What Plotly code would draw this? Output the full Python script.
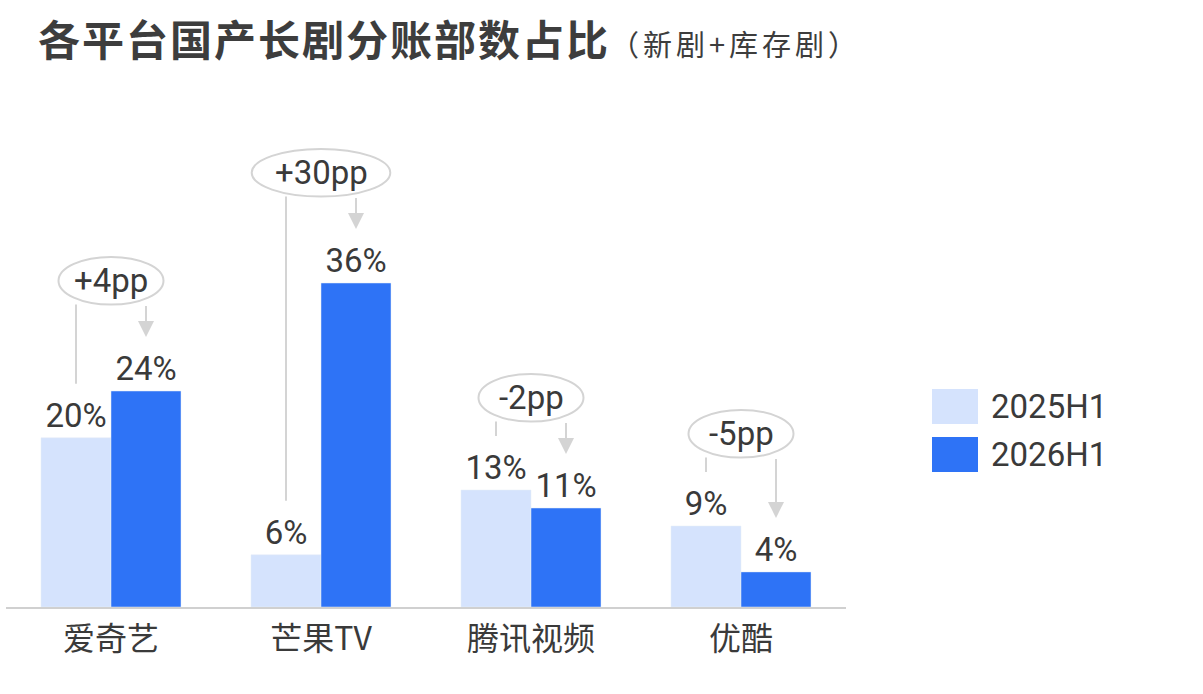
import plotly.graph_objects as go

# ---------------- data ----------------
platforms = ["爱奇艺", "芒果TV", "腾讯视频", "优酷"]
series_names = ["2025H1", "2026H1"]
share_2025 = [18.8, 5.8, 13, 9]      # bar heights (%)
share_2026 = [24, 36, 11, 3.9]
label_2025 = [20, 6, 13, 9]          # displayed (rounded) labels (%)
label_2026 = [24, 36, 11, 4]

# ---------------- style ----------------
LIGHT = "#d5e3fd"
DARK = "#2e73f6"
GRAY = "#d4d4d4"
TXT = "#3a3a3a"
LATIN = "Roboto, 'Noto Sans CJK SC', sans-serif"
CJK = "'Noto Sans CJK SC', sans-serif"

fig = go.Figure()
fig.add_trace(go.Bar(
    x=platforms, y=share_2025, name=series_names[0], marker_color=LIGHT,
    text=[f"{v}%" for v in label_2025], textposition="outside",
    textfont=dict(size=33, color=TXT, family=LATIN), cliponaxis=False,
    showlegend=False,
))
fig.add_trace(go.Bar(
    x=platforms, y=share_2026, name=series_names[1], marker_color=DARK,
    text=[f"{v}%" for v in label_2026], textposition="outside",
    textfont=dict(size=33, color=TXT, family=LATIN), cliponaxis=False,
    showlegend=False,
))

shapes = []
annotations = []
END_PAD = 6.0  # data units above a bar where connector ends
for i, (a, b, la, lb) in enumerate(zip(share_2025, share_2026, label_2025, label_2026)):
    delta = lb - la
    txt = f"{'+' if delta > 0 else '-'}{abs(delta)}pp"
    left_end = a + END_PAD
    right_end = b + END_PAD
    if delta > 0:
        ell_bottom = right_end + 3.6
    else:
        ell_bottom = left_end + 1.6
    ell_h = 5.3
    ell_w = 0.5 + 0.16 * (len(txt) - 4)
    xl = i - 1 / 6
    xr = i + 1 / 6
    # left connector line
    shapes.append(dict(type="line", xref="x", yref="y", x0=xl, x1=xl,
                       y0=ell_bottom, y1=left_end, line=dict(color=GRAY, width=2)))
    # ellipse
    shapes.append(dict(type="circle", xref="x", yref="y",
                       x0=i - ell_w / 2, x1=i + ell_w / 2,
                       y0=ell_bottom, y1=ell_bottom + ell_h,
                       fillcolor="white", line=dict(color=GRAY, width=2)))
    # ellipse text
    annotations.append(dict(x=i, y=ell_bottom + ell_h / 2, xref="x", yref="y",
                            text=txt, showarrow=False,
                            font=dict(size=33, color=TXT, family=LATIN)))
    # right arrow
    annotations.append(dict(x=xr, y=right_end, xref="x", yref="y",
                            ax=xr, ay=ell_bottom, axref="x", ayref="y",
                            text="", showarrow=True, arrowhead=2, arrowsize=1.6,
                            arrowwidth=2, arrowcolor=GRAY, standoff=0, startstandoff=0))

# ---------------- manual legend ----------------
L, R, T, B = 6, 357, 100, 87
W, H = 1203, 694
pw, ph = W - L - R, H - T - B
def px2paper_x(px):
    return (px - L) / pw
def px2paper_y(py):
    return (H - B - py) / ph

for k, (name, col) in enumerate(zip(series_names, [LIGHT, DARK])):
    top = 389 + k * 48
    shapes.append(dict(type="rect", xref="paper", yref="paper",
                       x0=px2paper_x(932), x1=px2paper_x(978),
                       y0=px2paper_y(top + 35), y1=px2paper_y(top),
                       fillcolor=col, line=dict(width=0)))
    annotations.append(dict(xref="paper", yref="paper",
                            x=px2paper_x(989), y=px2paper_y(top + 17),
                            xanchor="left", yanchor="middle", text=name,
                            showarrow=False,
                            font=dict(size=33, color=TXT, family=LATIN)))

fig.update_layout(
    width=W, height=H,
    margin=dict(l=L, r=R, t=T, b=B),
    paper_bgcolor="white", plot_bgcolor="white",
    barmode="group", bargap=1 / 3, bargroupgap=0,
    title=dict(
        text=("<span style='letter-spacing:2px'><b>各平台国产长剧分账部数占比</b></span>"
              "<span style='font-size:29px;letter-spacing:4px'>（新剧+库存剧）</span>"),
        x=38 / W, xanchor="left", xref="container",
        y=1 - 41 / H, yanchor="middle", yref="container",
        font=dict(size=42, color="#3d3d3d", family=CJK),
    ),
    xaxis=dict(showline=True, linecolor="#d0d0d0", linewidth=2,
               showgrid=False, ticks="", zeroline=False,
               tickfont=dict(size=32, color=TXT, family=CJK),
               ticklabelstandoff=3, range=[-0.5, 3.5]),
    yaxis=dict(visible=False, range=[0, ph / 9.0], showgrid=False, zeroline=False),
    shapes=shapes, annotations=annotations, showlegend=False,
)

fig.write_html("out.html")
